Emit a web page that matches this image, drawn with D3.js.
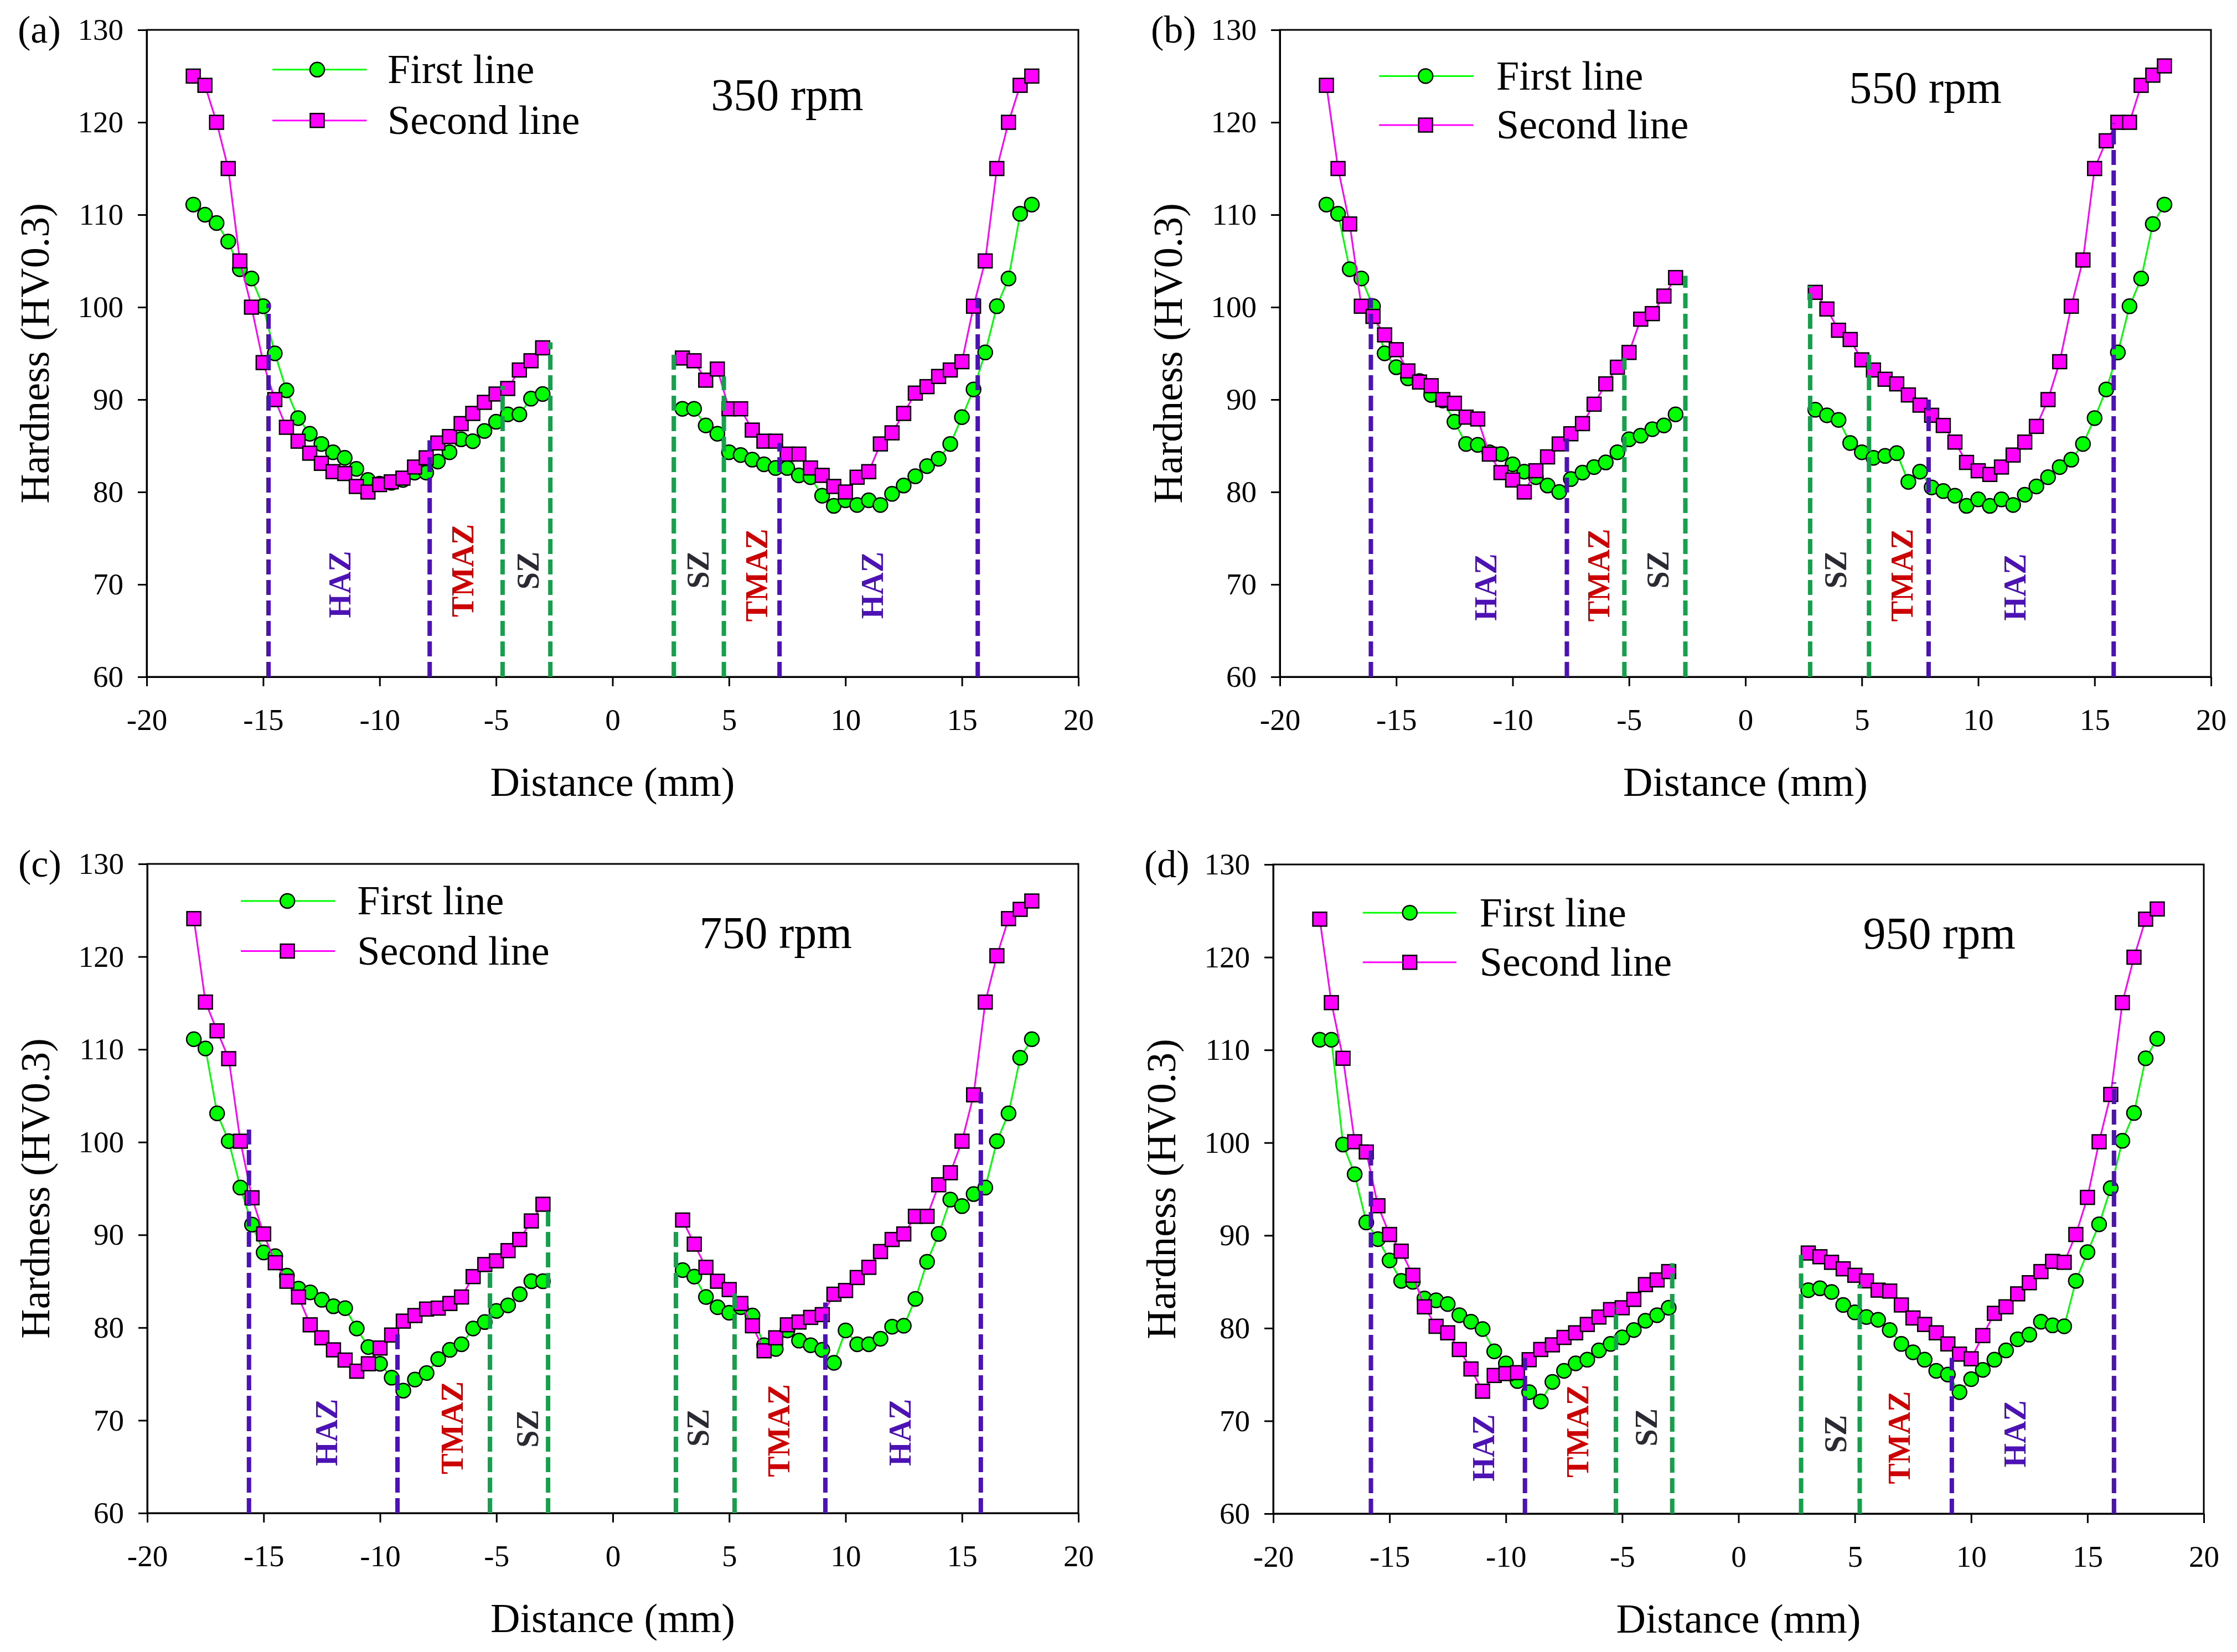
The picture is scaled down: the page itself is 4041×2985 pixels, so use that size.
<!DOCTYPE html>
<html>
<head>
<meta charset="utf-8">
<script src="https://cdn.jsdelivr.net/npm/d3@7"></script>
<style>
  body { margin: 0; background: #fff; }
  text { font-family: "Liberation Serif", "Times New Roman", serif; }
</style>
</head>
<body>
<svg id="chart"></svg>
<script>
// distances (mm) of the indentations, left and right of the weld centre
const distLeft  = [-18, -17.5, -17, -16.5, -16, -15.5, -15, -14.5, -14, -13.5, -13, -12.5, -12, -11.5, -11, -10.5,
                   -10, -9.5, -9, -8.5, -8, -7.5, -7, -6.5, -6, -5.5, -5, -4.5, -4, -3.5, -3];
const distRight = [3, 3.5, 4, 4.5, 5, 5.5, 6, 6.5, 7, 7.5, 8, 8.5, 9, 9.5, 10, 10.5,
                   11, 11.5, 12, 12.5, 13, 13.5, 14, 14.5, 15, 15.5, 16, 16.5, 17, 17.5, 18];

const xTicks = [-20, -15, -10, -5, 0, 5, 10, 15, 20];
const yTicks = [60, 70, 80, 90, 100, 110, 120, 130];
const seriesNames = ["First line", "Second line"];

// 350 rpm
const first350Left   = [111.1, 110.0, 109.1, 107.1, 104.1, 103.1, 100.1, 95.0, 91.0, 88.0, 86.3, 85.2, 84.3, 83.7, 82.5, 81.3,
                        80.9, 81.0, 81.3, 82.1, 82.1, 83.3, 84.3, 85.7, 85.5, 86.6, 87.6, 88.4, 88.4, 90.1, 90.6];
const first350Right  = [89.0, 89.0, 87.2, 86.3, 84.3, 84.0, 83.5, 83.0, 82.6, 82.6, 81.8, 81.6, 79.6, 78.5, 79.1, 78.6,
                        79.1, 78.6, 79.8, 80.7, 81.7, 82.8, 83.6, 85.2, 88.1, 91.1, 95.1, 100.1, 103.1, 110.1, 111.1];
const second350Left  = [125.0, 124.0, 120.0, 115.0, 105.0, 100.0, 94.0, 90.0, 87.0, 85.5, 84.2, 83.1, 82.2, 82.0, 80.6, 80.0,
                        80.8, 81.1, 81.5, 82.7, 83.7, 85.3, 86.0, 87.4, 88.5, 89.7, 90.6, 91.2, 93.2, 94.2, 95.6];
const second350Right = [94.5, 94.2, 92.1, 93.3, 89.0, 89.0, 86.7, 85.5, 85.5, 84.1, 84.1, 82.6, 81.8, 80.6, 80.0, 81.6,
                        82.2, 85.2, 86.4, 88.5, 90.7, 91.4, 92.5, 93.2, 94.1, 100.1, 105.0, 115.0, 120.0, 124.0, 125.0];

// 550 rpm
const first550Left   = [111.1, 110.1, 104.1, 103.1, 100.1, 95.0, 93.5, 92.3, 92.0, 90.5, 89.9, 87.6, 85.2, 85.1, 84.3, 84.1,
                        83.0, 82.2, 81.6, 80.7, 80.0, 81.4, 82.1, 82.7, 83.2, 84.3, 85.7, 86.1, 86.8, 87.2, 88.4];
const first550Right  = [88.9, 88.3, 87.8, 85.3, 84.3, 83.7, 83.9, 84.2, 81.1, 82.2, 80.5, 80.1, 79.6, 78.5, 79.2, 78.5,
                        79.2, 78.6, 79.7, 80.6, 81.6, 82.7, 83.5, 85.2, 88.0, 91.1, 95.1, 100.1, 103.1, 109.0, 111.1];
const second550Left  = [124.0, 115.0, 109.0, 100.1, 99.0, 97.0, 95.4, 93.1, 91.9, 91.5, 90.0, 89.6, 88.1, 87.9, 84.1, 82.1,
                        81.3, 80.0, 82.3, 83.8, 85.2, 86.3, 87.4, 89.5, 91.7, 93.5, 95.1, 98.7, 99.3, 101.2, 103.2];
const second550Right = [101.6, 99.8, 97.5, 96.5, 94.3, 93.2, 92.2, 91.7, 90.5, 89.4, 88.3, 87.2, 85.4, 83.2, 82.3, 81.9,
                        82.7, 84.0, 85.4, 87.1, 90.0, 94.1, 100.1, 105.1, 115.0, 118.0, 120.0, 120.0, 124.0, 125.1, 126.1];

// 750 rpm
const first750Left   = [111.1, 110.1, 103.1, 100.1, 95.1, 91.1, 88.1, 87.7, 85.6, 84.2, 83.8, 83.0, 82.3, 82.1, 79.9, 77.9,
                        76.1, 74.6, 73.2, 74.4, 75.1, 76.6, 77.6, 78.2, 79.9, 80.6, 81.8, 82.4, 83.6, 85.0, 85.0];
const first750Right  = [86.2, 85.5, 83.3, 82.2, 81.6, 82.2, 81.3, 78.1, 77.7, 79.7, 78.6, 78.1, 77.6, 76.2, 79.7, 78.2,
                        78.2, 78.8, 80.1, 80.2, 83.1, 87.1, 90.1, 93.8, 93.1, 94.4, 95.1, 100.1, 103.1, 109.1, 111.1];
const second750Left  = [124.1, 115.1, 112.0, 109.0, 100.1, 94.0, 90.1, 87.0, 85.0, 83.3, 80.3, 78.9, 77.6, 76.5, 75.3, 76.1,
                        77.8, 79.2, 80.7, 81.3, 82.0, 82.1, 82.6, 83.3, 85.5, 86.8, 87.2, 88.3, 89.5, 91.5, 93.3];
const second750Right = [91.6, 89.0, 86.5, 85.0, 84.1, 82.6, 80.2, 77.5, 78.9, 80.3, 80.6, 81.1, 81.4, 83.6, 84.0, 85.4,
                        86.5, 88.2, 89.5, 90.1, 92.0, 92.0, 95.4, 96.7, 100.1, 105.1, 115.1, 120.1, 124.1, 125.1, 126.0];

// 950 rpm
const first950Left   = [111.1, 111.1, 99.8, 96.6, 91.4, 89.6, 87.3, 85.1, 85.0, 83.2, 83.0, 82.6, 81.4, 80.7, 79.9, 77.5,
                        76.2, 74.3, 73.1, 72.1, 74.2, 75.4, 76.2, 76.6, 77.6, 78.3, 79.0, 79.8, 80.8, 81.4, 82.2];
const first950Right  = [84.1, 84.3, 83.9, 82.5, 81.7, 81.2, 80.9, 79.8, 78.3, 77.4, 76.6, 75.4, 75.0, 73.1, 74.5, 75.5,
                        76.6, 77.6, 78.8, 79.3, 80.7, 80.3, 80.2, 85.1, 88.2, 91.2, 95.1, 100.2, 103.2, 109.1, 111.2];
const second950Left  = [124.1, 115.1, 109.1, 100.1, 99.0, 93.2, 90.1, 88.3, 85.7, 82.3, 80.2, 79.5, 77.7, 75.6, 73.2, 74.9,
                        75.1, 75.2, 76.6, 77.7, 78.2, 79.0, 79.5, 80.4, 81.2, 82.0, 82.2, 83.1, 84.7, 85.2, 86.1];
const second950Right = [88.1, 87.7, 87.1, 86.4, 85.7, 85.1, 84.1, 84.0, 82.5, 81.1, 80.4, 79.5, 78.3, 77.2, 76.7, 79.2,
                        81.6, 82.3, 83.7, 84.9, 86.1, 87.2, 87.1, 90.1, 94.1, 100.1, 105.2, 115.1, 120.0, 124.1, 125.2];

// zone boundaries: [distance, top hardness, kind]
const bounds350 = [[-14.77, 100.4, "haz"], [-7.85, 85.6, "haz"], [-4.72, 91.5, "sz"], [-2.67, 96.2, "sz"],
                   [2.63, 95.2, "sz"], [4.78, 92.5, "sz"], [7.17, 85.3, "haz"], [15.68, 101.0, "haz"]];
const bounds550 = [[-16.09, 101.0, "haz"], [-7.67, 85.8, "haz"], [-5.2, 94.5, "sz"], [-2.58, 103.4, "sz"],
                   [2.78, 102.3, "sz"], [5.31, 95.0, "sz"], [7.87, 90.0, "haz"], [15.82, 119.9, "haz"]];
const bounds750 = [[-15.63, 101.7, "haz"], [-9.25, 79.7, "haz"], [-5.28, 85.9, "sz"], [-2.78, 93.0, "sz"],
                   [2.71, 90.8, "sz"], [5.23, 84.1, "sz"], [9.13, 82.7, "haz"], [15.81, 105.4, "haz"]];
const bounds950 = [[-15.8, 99.8, "haz"], [-9.18, 76.8, "haz"], [-5.27, 82.2, "sz"], [-2.85, 87.0, "sz"],
                   [2.69, 87.9, "sz"], [5.21, 84.7, "sz"], [9.17, 76.8, "haz"], [16.14, 106.5, "haz"]];

// zone names: [text, distance, hardness at label centre]
const zones350 = [["HAZ", -11.7, 70.0], ["TMAZ", -6.42, 71.5], ["SZ", -3.63, 71.5],
                  ["SZ", 3.66, 71.6], ["TMAZ", 6.18, 71.0], ["HAZ", 11.15, 69.9]];
const zones550 = [["HAZ", -11.16, 69.7], ["TMAZ", -6.31, 71.0], ["SZ", -3.76, 71.6],
                  ["SZ", 3.88, 71.6], ["TMAZ", 6.73, 71.0], ["HAZ", 11.58, 69.7]];
const zones750 = [["HAZ", -12.3, 68.7], ["TMAZ", -6.9, 69.2], ["SZ", -3.67, 69.1],
                  ["SZ", 3.67, 69.2], ["TMAZ", 7.14, 68.9], ["HAZ", 12.35, 68.7]];
const zones950 = [["HAZ", -10.97, 67.1], ["TMAZ", -6.92, 68.9], ["SZ", -3.97, 69.3],
                  ["SZ", 4.17, 68.6], ["TMAZ", 6.91, 68.2], ["HAZ", 11.89, 68.6]];

const speeds = ["350 rpm", "550 rpm", "750 rpm", "950 rpm"];

// layout of the four panels (pixels) and their legend / title placement (data units)
const panels = [
  {tag: "(a)", left: 265,  top: 54,   right: 1948, bottom: 1223,
   first: [first350Left, first350Right], second: [second350Left, second350Right],
   bounds: bounds350, zones: zones350, speed: speeds[0], speedPos: [7.5, 121.3],
   legend: {x0: -14.6, x1: -10.56, xm: -12.68, xt: -9.66, y: [125.7, 120.2]}},
  {tag: "(b)", left: 2312, top: 54,   right: 3994, bottom: 1223,
   first: [first550Left, first550Right], second: [second550Left, second550Right],
   bounds: bounds550, zones: zones550, speed: speeds[1], speedPos: [7.73, 122.1],
   legend: {x0: -15.74, x1: -11.69, xm: -13.74, xt: -10.7, y: [125.0, 119.7]}},
  {tag: "(c)", left: 266,  top: 1561, right: 1948, bottom: 2734,
   first: [first750Left, first750Right], second: [second750Left, second750Right],
   bounds: bounds750, zones: zones750, speed: speeds[2], speedPos: [7.0, 120.9],
   legend: {x0: -15.98, x1: -11.94, xm: -13.98, xt: -10.98, y: [126.0, 120.6]}},
  {tag: "(d)", left: 2300, top: 1562, right: 3981, bottom: 2735,
   first: [first950Left, first950Right], second: [second950Left, second950Right],
   bounds: bounds950, zones: zones950, speed: speeds[3], speedPos: [8.63, 120.9],
   legend: {x0: -16.15, x1: -12.13, xm: -14.13, xt: -11.13, y: [124.8, 119.45]}}
];

const colors = {
  first: "#00ff00", second: "#ff00ff",
  haz: "#4c12b4", sz: "#17a04b",
  HAZ: "#4c12b4", TMAZ: "#cc0000", SZ: "#2a2a33"
};

const W = 4041, H = 2985;
const svg = d3.select("#chart").attr("width", W).attr("height", H);
svg.append("rect").attr("width", W).attr("height", H).attr("fill", "#fff");

panels.forEach(p => drawPanel(p));

function drawPanel(p) {
  const x = d3.scaleLinear().domain([-20, 20]).range([p.left, p.right]);
  const y = d3.scaleLinear().domain([60, 130]).range([p.bottom, p.top]);
  const g = svg.append("g");

  // frame
  g.append("rect")
    .attr("x", p.left).attr("y", p.top)
    .attr("width", p.right - p.left).attr("height", p.bottom - p.top)
    .attr("fill", "none").attr("stroke", "#000").attr("stroke-width", 3);

  // axes
  const xAxis = d3.axisBottom(x).tickValues(xTicks).tickSize(17).tickPadding(40)
    .tickSizeOuter(0).tickFormat(d => String(d));
  const yAxis = d3.axisLeft(y).tickValues(yTicks).tickSize(16).tickPadding(26).tickSizeOuter(0);

  const gx = g.append("g").attr("transform", `translate(0,${p.bottom})`).call(xAxis);
  const gy = g.append("g").attr("transform", `translate(${p.left},0)`).call(yAxis);
  [gx, gy].forEach(a => {
    a.select(".domain").attr("stroke-width", 3);
    a.selectAll(".tick line").attr("stroke-width", 3);
    a.selectAll(".tick text").attr("font-size", 55).attr("fill", "#000")
      .style("font-family", '"Liberation Serif", "Times New Roman", serif');
  });

  // axis titles
  g.append("text")
    .attr("x", x(0)).attr("y", p.bottom + 215)
    .attr("text-anchor", "middle").attr("font-size", 74)
    .text("Distance (mm)");
  g.append("text")
    .attr("transform", `translate(${p.left - 177},${(p.top + p.bottom) / 2}) rotate(-90)`)
    .attr("text-anchor", "middle").attr("font-size", 74)
    .text("Hardness (HV0.3)");

  // panel tag
  g.append("text")
    .attr("x", p.left - 233).attr("y", p.top + 23)
    .attr("font-size", 70)
    .text(p.tag);

  // speed
  g.append("text")
    .attr("x", x(p.speedPos[0])).attr("y", y(p.speedPos[1]))
    .attr("text-anchor", "middle").attr("font-size", 82)
    .text(p.speed);

  const line = d3.line().x(d => x(d[0])).y(d => y(d[1]));
  const sides = [distLeft, distRight];

  // second line underneath? reference shows squares on top, so first line first
  ["first", "second"].forEach(key => {
    sides.forEach((dist, i) => {
      const pts = dist.map((d, j) => [d, p[key][i][j]]);
      g.append("path").datum(pts)
        .attr("d", line).attr("fill", "none")
        .attr("stroke", colors[key]).attr("stroke-width", 3);
      drawMarkers(g, pts, key, x, y);
    });
  });

  // zone boundaries
  g.selectAll(null).data(p.bounds).join("line")
    .attr("x1", d => x(d[0])).attr("x2", d => x(d[0]))
    .attr("y1", y(60)).attr("y2", d => y(d[1]))
    .attr("stroke", d => colors[d[2]]).attr("stroke-width", 8)
    .attr("stroke-dasharray", "27 10");

  // zone names
  g.selectAll(null).data(p.zones).join("text")
    .attr("transform", d => `translate(${x(d[1])},${y(d[2])}) rotate(-90)`)
    .attr("text-anchor", "middle").attr("dy", "0.34em")
    .attr("font-size", 56).attr("font-weight", "bold")
    .attr("fill", d => colors[d[0]])
    .text(d => d[0]);

  // legend
  const L = p.legend;
  ["first", "second"].forEach((key, i) => {
    g.append("line")
      .attr("x1", x(L.x0)).attr("x2", x(L.x1))
      .attr("y1", y(L.y[i])).attr("y2", y(L.y[i]))
      .attr("stroke", colors[key]).attr("stroke-width", 3);
    drawMarkers(g, [[L.xm, L.y[i]]], key, x, y);
    g.append("text")
      .attr("x", x(L.xt)).attr("y", y(L.y[i])).attr("dy", "0.33em")
      .attr("font-size", 74)
      .text(seriesNames[i]);
  });
}

function drawMarkers(g, pts, key, x, y) {
  if (key === "first") {
    g.selectAll(null).data(pts).join("circle")
      .attr("cx", d => x(d[0])).attr("cy", d => y(d[1])).attr("r", 13)
      .attr("fill", colors.first).attr("stroke", "#000").attr("stroke-width", 2.5);
  } else {
    const s = 25;
    g.selectAll(null).data(pts).join("rect")
      .attr("x", d => x(d[0]) - s / 2).attr("y", d => y(d[1]) - s / 2)
      .attr("width", s).attr("height", s)
      .attr("fill", colors.second).attr("stroke", "#000").attr("stroke-width", 2.5);
  }
}
</script>
</body>
</html>
